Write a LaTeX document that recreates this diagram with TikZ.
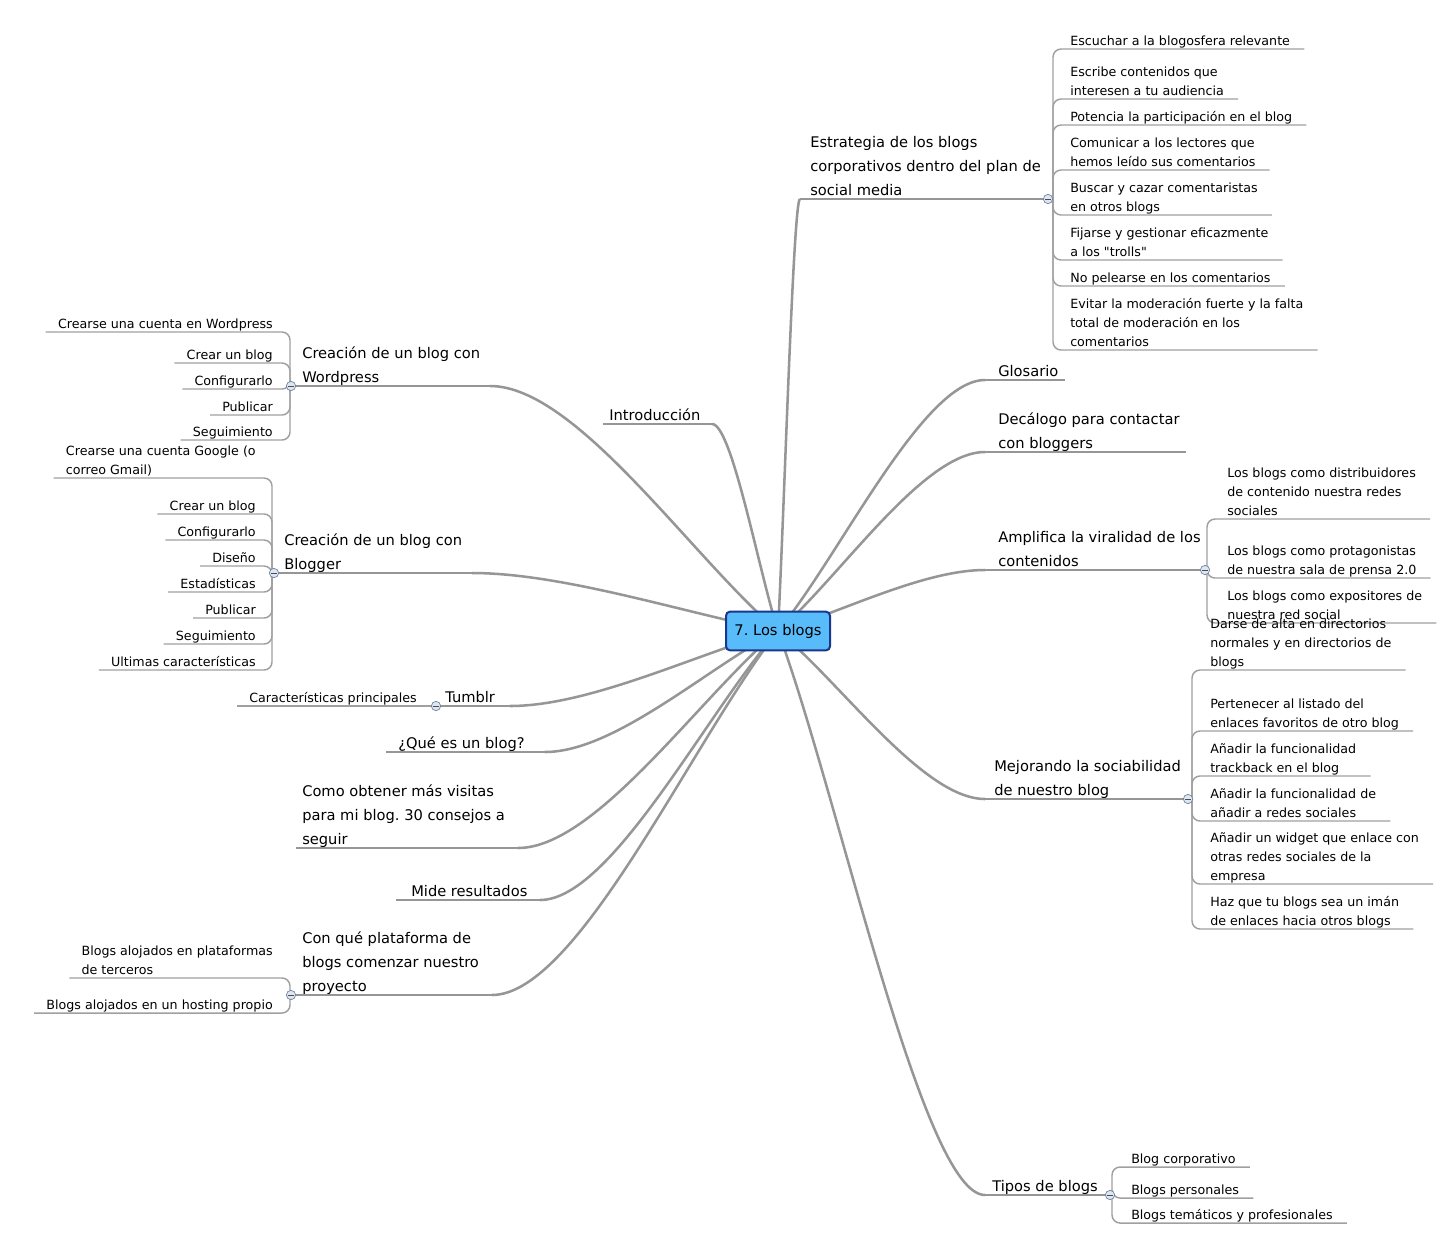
\documentclass[tikz,border=0pt]{standalone}
\usepackage{fontspec}
\setmainfont{DejaVu Sans}[Ligatures=TeXOff]
\usetikzlibrary{calc}
\definecolor{linegray}{RGB}{150,150,150}
\definecolor{childgray}{RGB}{160,160,160}
\definecolor{centerfill}{RGB}{88,188,250}
\definecolor{centerdraw}{RGB}{25,55,140}
\definecolor{knobfill}{RGB}{222,230,242}
\definecolor{knobdraw}{RGB}{110,128,158}
\newcommand\ustrut{\rule[-2.6pt]{0pt}{3pt}}
\frenchspacing
\tikzset{
 topic/.style={inner sep=0pt, align=left, font=\fontsize{11}{18}\selectfont, execute at end node=\ustrut},
 leaf/.style={inner sep=0pt, align=left, font=\fontsize{9.5}{14.25}\selectfont, execute at end node=\ustrut},
 branch/.style={draw=linegray, line width=1.9pt, to path={.. controls ($(\tikztostart)!0.3!(\tikztotarget)$) and ($(\tikztotarget)!0.3!(\tikztotarget -| \tikztostart)$) .. (\tikztotarget)}},
 uline/.style={draw=linegray, line width=1.5pt},
 cline/.style={draw=childgray, line width=1.1pt, rounded corners=6pt},
 knob/.style={circle, draw=knobdraw, fill=knobfill, line width=0.5pt, minimum size=7pt, inner sep=0pt,
   path picture={\draw[black!70, line width=0.6pt] ([xshift=-2pt]path picture bounding box.center) -- ([xshift=2pt]path picture bounding box.center);}},
}
\begin{document}
\frenchspacing
\begin{tikzpicture}[x=0.75pt,y=-0.75pt]
\useasboundingbox (0,0) rectangle (1446,1254);
\coordinate (C) at (778,631);

% ---------- right side ----------
% R1 Estrategia
\coordinate (r1p) at (800,199); \coordinate (r1q) at (1048,199); \coordinate (r1b) at (1053,199);
\node[topic, anchor=south west] (r1) at (810,199) {Estrategia de los blogs\\corporativos dentro del plan de\\social media};
\node[leaf, anchor=south west] (r1a) at (1070,49) {Escuchar a la blogosfera relevante};
\node[leaf, anchor=south west] (r1c1) at (1070,99) {Escribe contenidos que\\interesen a tu audiencia};
\node[leaf, anchor=south west] (r1c2) at (1070,125) {Potencia la participación en el blog};
\node[leaf, anchor=south west] (r1c3) at (1070,170) {Comunicar a los lectores que\\hemos leído sus comentarios};
\node[leaf, anchor=south west] (r1c4) at (1070,215) {Buscar y cazar comentaristas\\en otros blogs};
\node[leaf, anchor=south west] (r1c5) at (1070,260) {Fijarse y gestionar eficazmente\\a los "trolls"};
\node[leaf, anchor=south west] (r1c6) at (1070,286) {No pelearse en los comentarios};
\node[leaf, anchor=south west] (r1c7) at (1070,350) {Evitar la moderación fuerte y la falta\\total de moderación en los\\comentarios};
\foreach \n in {r1a,r1c1,r1c2,r1c3,r1c4,r1c5,r1c6,r1c7}
  \draw[cline] (r1b) |- ($(\n.south east)+(14,0)$);

% R2 Glosario
\coordinate (r2p) at (985,380); \coordinate (r2q) at (1065,380);
\node[topic, anchor=south west] (r2) at (998,380) {Glosario};

% R3 Decalogo
\coordinate (r3p) at (985,452); \coordinate (r3q) at (1186,452);
\node[topic, anchor=south west] (r3) at (998,452) {Decálogo para contactar\\con bloggers};

% R4 Amplifica
\coordinate (r4p) at (985,570); \coordinate (r4q) at (1205,570); \coordinate (r4b) at (1207,570);
\node[topic, anchor=south west] (r4) at (998,570) {Amplifica la viralidad de los\\contenidos};
\node[leaf, anchor=south west] (r4a) at (1227,519) {Los blogs como distribuidores\\de contenido nuestra redes\\sociales};
\node[leaf, anchor=south west] (r4c1) at (1227,578) {Los blogs como protagonistas\\de nuestra sala de prensa 2.0};
\node[leaf, anchor=south west] (r4c2) at (1227,623) {Los blogs como expositores de\\nuestra red social};
\foreach \n in {r4a,r4c1,r4c2}
  \draw[cline] (r4b) |- ($(\n.south east)+(14,0)$);

% R5 Mejorando
\coordinate (r5p) at (985,799); \coordinate (r5q) at (1188,799); \coordinate (r5b) at (1192,799);
\node[topic, anchor=south west] (r5) at (994,799) {Mejorando la sociabilidad\\de nuestro blog};
\node[leaf, anchor=south west] (r5a) at (1210,670) {Darse de alta en directorios\\normales y en directorios de\\blogs};
\node[leaf, anchor=south west] (r5c1) at (1210,731) {Pertenecer al listado del\\enlaces favoritos de otro blog};
\node[leaf, anchor=south west] (r5c2) at (1210,776) {Añadir la funcionalidad\\trackback en el blog};
\node[leaf, anchor=south west] (r5c3) at (1210,821) {Añadir la funcionalidad de\\añadir a redes sociales};
\node[leaf, anchor=south west] (r5c4) at (1210,884) {Añadir un widget que enlace con\\otras redes sociales de la\\empresa};
\node[leaf, anchor=south west] (r5c5) at (1210,929) {Haz que tu blogs sea un imán\\de enlaces hacia otros blogs};
\foreach \n in {r5a,r5c1,r5c2,r5c3,r5c4,r5c5}
  \draw[cline] (r5b) |- ($(\n.south east)+(14,0)$);

% R6 Tipos
\coordinate (r6p) at (985,1195); \coordinate (r6q) at (1110,1195); \coordinate (r6b) at (1112,1195);
\node[topic, anchor=south west] (r6) at (992,1195) {Tipos de blogs};
\node[leaf, anchor=south west] (r6a) at (1131,1167) {Blog corporativo};
\node[leaf, anchor=south west] (r6c1) at (1131,1198) {Blogs personales};
\node[leaf, anchor=south west] (r6c2) at (1131,1223) {Blogs temáticos y profesionales};
\foreach \n in {r6a,r6c1,r6c2}
  \draw[cline] (r6b) |- ($(\n.south east)+(14,0)$);

% ---------- left side ----------
% L1 Introduccion
\coordinate (l1p) at (712,424); \coordinate (l1q) at (603,424);
\node[topic, anchor=south west] (l1) at (609,424) {Introducción};

% L2 Wordpress
\coordinate (l2p) at (490,386); \coordinate (l2q) at (291,386); \coordinate (l2b) at (290,386);
\node[topic, anchor=south west] (l2) at (302,386) {Creación de un blog con\\Wordpress};
\node[leaf, anchor=south east] (l2a) at (273,332) {Crearse una cuenta en Wordpress};
\node[leaf, anchor=south east] (l2c1) at (273,363) {Crear un blog};
\node[leaf, anchor=south east] (l2c2) at (273,389) {Configurarlo};
\node[leaf, anchor=south east] (l2c3) at (273,415) {Publicar};
\node[leaf, anchor=south east] (l2c4) at (273,440) {Seguimiento};
\foreach \n in {l2a,l2c1,l2c2,l2c3,l2c4}
  \draw[cline] (l2b) |- ($(\n.south west)+(-12,0)$);

% L3 Blogger
\coordinate (l3p) at (472,573); \coordinate (l3q) at (274,573); \coordinate (l3b) at (272,573);
\node[topic, anchor=south west] (l3) at (284,573) {Creación de un blog con\\Blogger};
\node[leaf, anchor=south east] (l3a) at (256,478) {Crearse una cuenta Google (o\\correo Gmail)};
\node[leaf, anchor=south east] (l3c1) at (256,514) {Crear un blog};
\node[leaf, anchor=south east] (l3c2) at (256,540) {Configurarlo};
\node[leaf, anchor=south east] (l3c3) at (256,566) {Diseño};
\node[leaf, anchor=south east] (l3c4) at (256,592) {Estadísticas};
\node[leaf, anchor=south east] (l3c5) at (256,618) {Publicar};
\node[leaf, anchor=south east] (l3c6) at (256,644) {Seguimiento};
\node[leaf, anchor=south east] (l3c7) at (256,670) {Ultimas características};
\foreach \n in {l3a,l3c1,l3c2,l3c3,l3c4,l3c5,l3c6,l3c7}
  \draw[cline] (l3b) |- ($(\n.south west)+(-12,0)$);

% L4 Tumblr
\coordinate (l4p) at (510,706); \coordinate (l4q) at (436,706);
\node[topic, anchor=south west] (l4) at (445,706) {Tumblr};
\node[leaf, anchor=south east] (l4a) at (417,706) {Características principales};
\draw[cline] (l4q) -- ($(l4a.south west)+(-12,0)$);

% L5 Que es
\coordinate (l5p) at (545,752); \coordinate (l5q) at (386,752);
\node[topic, anchor=south west] (l5) at (398,752) {¿Qué es un blog?};

% L6 Como obtener
\coordinate (l6p) at (518,848); \coordinate (l6q) at (296,848);
\node[topic, anchor=south west] (l6) at (302,848) {Como obtener más visitas\\para mi blog. 30 consejos a\\seguir};

% L7 Mide
\coordinate (l7p) at (540,900); \coordinate (l7q) at (396,900);
\node[topic, anchor=south west] (l7) at (411,900) {Mide resultados};

% L8 Con que
\coordinate (l8p) at (492,995); \coordinate (l8q) at (291,995); \coordinate (l8b) at (290,995);
\node[topic, anchor=south west] (l8) at (302,995) {Con qué plataforma de\\blogs comenzar nuestro\\proyecto};
\node[leaf, anchor=south east] (l8a) at (273,978) {Blogs alojados en plataformas\\de terceros};
\node[leaf, anchor=south east] (l8c1) at (273,1013) {Blogs alojados en un hosting propio};
\foreach \n in {l8a,l8c1}
  \draw[cline] (l8b) |- ($(\n.south west)+(-12,0)$);

% ---------- underlines and branches ----------
\foreach \k in {r1,r2,r3,r4,r5,r6,l1,l2,l3,l4,l5,l6,l7,l8}{
  \draw[uline] (\k p) -- (\k q);
  \draw[branch] (C) to (\k p);
}

% ---------- knobs ----------
\foreach \k in {r1q,r4q,r5q,r6q,l2q,l3q,l4q,l8q}
  \node[knob] at (\k) {};

% ---------- central topic ----------
\node[draw=centerdraw, fill=centerfill, line width=1.5pt, rounded corners=3pt,
      minimum width=78pt, minimum height=29pt, inner sep=0pt,
      font=\fontsize{11}{13}\selectfont] (center) at (C) {7. Los blogs};
\end{tikzpicture}
\end{document}
